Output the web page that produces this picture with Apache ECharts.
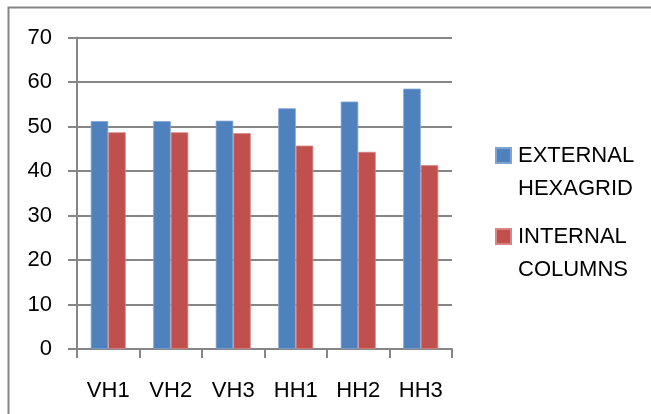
<!DOCTYPE html>
<html>
<head>
<meta charset="utf-8">
<script src="https://cdn.jsdelivr.net/npm/echarts@6/dist/echarts.min.js"></script>
<style>
  html, body { margin: 0; padding: 0; background: #fff; }
  #chart { width: 651px; height: 414px; }
</style>
</head>
<body>
<div id="chart"></div>
<script>
const categories = ['VH1', 'VH2', 'VH3', 'HH1', 'HH2', 'HH3'];
const externalHexagrid = [51.2, 51.2, 51.3, 54.1, 55.6, 58.5];
const internalColumns = [48.7, 48.7, 48.5, 45.7, 44.3, 41.3];
const seriesNames = ['EXTERNAL HEXAGRID', 'INTERNAL COLUMNS'];
const yTicks = { min: 0, max: 70, interval: 10 };

const FONT = '"Liberation Sans", Arial, sans-serif';
const GRAY = '#868686';
const LEGEND_LINE = 33;

const chart = echarts.init(document.getElementById('chart'));
chart.setOption({
  animation: false,
  backgroundColor: '#fff',
  textStyle: { fontFamily: FONT },
  graphic: [{
    type: 'polyline',
    shape: { points: [[8.5, 414], [8.5, 7.5], [651, 7.5]] },
    style: { stroke: GRAY, lineWidth: 2, fill: null },
    silent: true
  }],
  grid: { left: 77, right: 199, top: 37.5, bottom: 65 },
  legend: {
    orient: 'vertical',
    left: 495,
    top: 155.5 - 1.5 * LEGEND_LINE,
    padding: 0,
    itemWidth: 15,
    itemHeight: 15,
    itemGap: 81 - 3 * LEGEND_LINE,
    icon: 'rect',
    // a blank first line keeps the swatch level with the first word
    formatter: name => '\u00a0\n' + name.replace(' ', '\n'),
    textStyle: {
      fontFamily: FONT,
      fontSize: 22,
      color: '#000',
      lineHeight: LEGEND_LINE,
      padding: [0, 0, 0, 2]
    },
    data: seriesNames
  },
  xAxis: {
    type: 'category',
    data: categories,
    axisLine: { lineStyle: { color: GRAY, width: 2 } },
    axisTick: { show: true, length: 9, lineStyle: { color: GRAY, width: 2 } },
    axisLabel: { fontFamily: FONT, fontSize: 22, color: '#000', margin: 31 }
  },
  yAxis: {
    type: 'value',
    min: yTicks.min,
    max: yTicks.max,
    interval: yTicks.interval,
    axisLine: { show: true, lineStyle: { color: GRAY, width: 2 } },
    axisTick: { show: true, length: 9, lineStyle: { color: GRAY, width: 2 } },
    axisLabel: { fontFamily: FONT, fontSize: 22, color: '#000', margin: 25 },
    splitLine: { lineStyle: { color: GRAY, width: 2 } }
  },
  series: [
    {
      name: seriesNames[0],
      type: 'bar',
      data: externalHexagrid,
      barWidth: 17.5,
      barGap: '0%',
      itemStyle: { color: '#4F81BD', borderColor: '#7FA3D3', borderWidth: 0.8 }
    },
    {
      name: seriesNames[1],
      type: 'bar',
      data: internalColumns,
      barWidth: 17.5,
      barGap: '0%',
      itemStyle: { color: '#C0504D', borderColor: '#D88583', borderWidth: 0.8 }
    }
  ]
});
</script>
</body>
</html>
